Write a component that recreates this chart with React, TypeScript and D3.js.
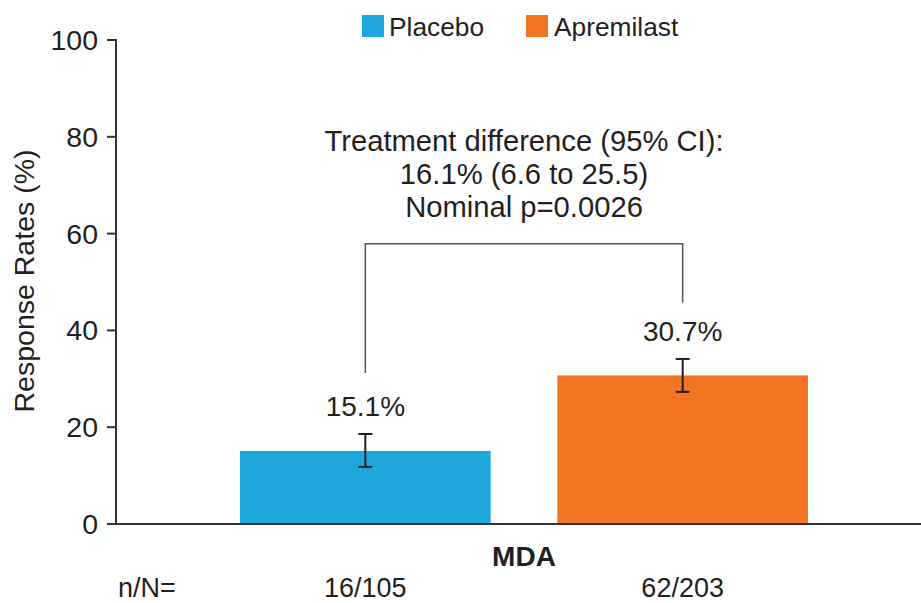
import React from "react";
import * as d3 from "d3";

const categories = ["Placebo", "Apremilast"];
const values = [15.1, 30.7];
const ciLow = [11.8, 27.3];
const ciHigh = [18.6, 34.1];
const counts = ["16/105", "62/203"];
const colors = ["#1ca8dd", "#f47521"];
const yTicks = [0, 20, 40, 60, 80, 100];
const annotation = ["Treatment difference (95% CI):", "16.1% (6.6 to 25.5)", "Nominal p=0.0026"];
const bracketLeft = 31.2;
const bracketRight = 45.7;
const bracketTop = 57.9;

const W = 921;
const H = 603;
const FONT = "'Liberation Sans', Arial, Helvetica, sans-serif";
const TEXT = "#231f20";

export default function App() {
  const y = d3.scaleLinear().domain([0, 100]).range([524, 40]);
  const x = d3.scaleBand<string>().domain(categories).range([240, 808]).paddingInner(0.21).paddingOuter(0);
  const axisX = 116;
  const bw = x.bandwidth();
  const cx = (c: string) => (x(c) as number) + bw / 2;
  const midX = (cx(categories[0]) + cx(categories[1])) / 2;

  return (
    <svg width={W} height={H} style={{ position: "absolute", left: 0, top: 0, background: "#fff" }}>
      <rect x={0} y={0} width={W} height={H} fill="#fff" />
      {/* legend */}
      <g fontFamily={FONT} fontSize={26.3} fill={TEXT}>
        <rect x={362} y={15} width={22} height={22} fill={colors[0]} />
        <text x={389} y={36}>{categories[0]}</text>
        <rect x={526} y={15} width={22} height={22} fill={colors[1]} />
        <text x={554} y={36}>{categories[1]}</text>
      </g>
      {/* bars */}
      {categories.map((c, i) => (
        <rect key={c} x={x(c)} y={y(values[i])} width={bw} height={y(0) - y(values[i])} fill={colors[i]} />
      ))}
      {/* error bars */}
      {categories.map((c, i) => (
        <g key={c + "e"} stroke="#231f20" strokeWidth={2}>
          <line x1={cx(c)} x2={cx(c)} y1={y(ciLow[i])} y2={y(ciHigh[i])} />
          <line x1={cx(c) - 7} x2={cx(c) + 7} y1={y(ciLow[i])} y2={y(ciLow[i])} />
          <line x1={cx(c) - 7} x2={cx(c) + 7} y1={y(ciHigh[i])} y2={y(ciHigh[i])} />
        </g>
      ))}
      {/* value labels */}
      {categories.map((c, i) => (
        <text key={c + "l"} x={cx(c)} y={y(ciHigh[i]) - 18} textAnchor="middle" fontFamily={FONT} fontSize={28} fill={TEXT}>
          {values[i].toFixed(1)}%
        </text>
      ))}
      {/* bracket */}
      <path
        d={`M${cx(categories[0])},${y(bracketLeft)} V${y(bracketTop)} H${cx(categories[1])} V${y(bracketRight)}`}
        fill="none"
        stroke="#555"
        strokeWidth={1.5}
      />
      {/* annotation */}
      <g fontFamily={FONT} fontSize={29.2} fill={TEXT} textAnchor="middle">
        {annotation.map((t, i) => (
          <text key={i} x={midX} y={151 + i * 33}>{t}</text>
        ))}
      </g>
      {/* axes */}
      <line x1={axisX} x2={W} y1={y(0)} y2={y(0)} stroke="#333" strokeWidth={2} />
      <line x1={axisX} x2={axisX} y1={y(0) + 1} y2={y(100) - 1} stroke="#333" strokeWidth={2} />
      {yTicks.map((t) => (
        <g key={t}>
          <line x1={axisX - 9} x2={axisX} y1={y(t)} y2={y(t)} stroke="#333" strokeWidth={2} />
          <text x={98} y={y(t) + 10} textAnchor="end" fontFamily={FONT} fontSize={28.5} fill={TEXT}>{t}</text>
        </g>
      ))}
      <text
        transform={`translate(34,${(y(0) + y(100)) / 2 - 1}) rotate(-90)`}
        textAnchor="middle"
        fontFamily={FONT}
        fontSize={28.5}
        fill={TEXT}
      >
        Response Rates (%)
      </text>
      <text x={midX} y={566} textAnchor="middle" fontFamily={FONT} fontSize={28} fontWeight="bold" fill={TEXT}>MDA</text>
      <text x={118} y={597} fontFamily={FONT} fontSize={27} fill={TEXT}>n/N=</text>
      {categories.map((c, i) => (
        <text key={c + "n"} x={cx(c)} y={597} textAnchor="middle" fontFamily={FONT} fontSize={27} fill={TEXT}>{counts[i]}</text>
      ))}
    </svg>
  );
}
